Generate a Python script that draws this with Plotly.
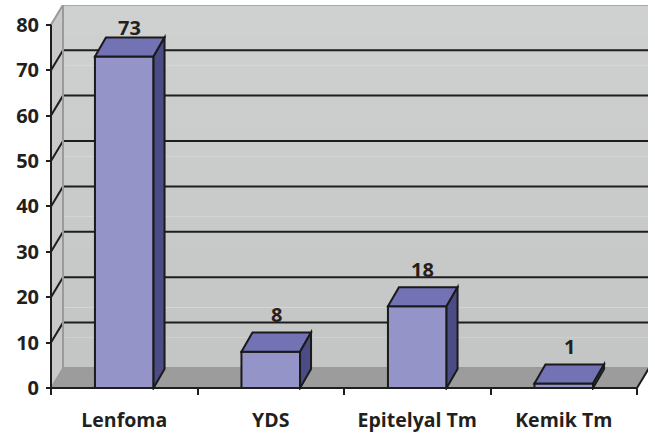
import plotly.graph_objects as go

# Tumour groups and counts
categories = ["Lenfoma", "YDS", "Epitelyal Tm", "Kemik Tm"]
values = [73, 8, 18, 1]
y_ticks = [0, 10, 20, 30, 40, 50, 60, 70, 80]

# 3D-look geometry (in axis units)
n = len(categories)
centers = [i + 0.5 for i in range(n)]
bar_w = 0.4
wall_dx, wall_dy = 0.082, 4.4     # depth of walls/floor
bar_dx, bar_dy = 0.075, 4.2       # depth of bars
y_top = 80

FRONT = "#9494C8"
TOP = "#7272B4"
SIDE = "#4C4C84"
SIDEWALL = "#C9C9C9"
FLOOR = "#9C9C9C"
EDGE = "#9A9A9A"
INK = "#231F20"
FONT = "Open Sans"

def poly(pts):
    return "M " + " L ".join(f"{x},{y}" for x, y in pts) + " Z"

def line(pts):
    return "M " + " L ".join(f"{x},{y}" for x, y in pts)

shapes = []
# back wall, with a soft vertical shading
bands = 12
for k in range(bands):
    y0 = wall_dy + (y_top) * k / bands
    y1 = wall_dy + (y_top) * (k + 1) / bands
    t = k / (bands - 1)
    c = int(196 + (207 - 196) * t)
    shapes.append(dict(type="rect", xref="x", yref="y", layer="below",
                       x0=wall_dx, x1=n + wall_dx, y0=y0, y1=y1,
                       fillcolor=f"rgb({c},{c+1},{c+1})", line=dict(width=0)))
# side wall
shapes.append(dict(type="path", xref="x", yref="y", layer="below",
                   path=poly([(0, 0), (0, y_top), (wall_dx, y_top + wall_dy), (wall_dx, wall_dy)]),
                   fillcolor=SIDEWALL, line=dict(width=0)))
# floor
shapes.append(dict(type="path", xref="x", yref="y", layer="below",
                   path=poly([(0, 0), (n, 0), (n + wall_dx, wall_dy), (wall_dx, wall_dy)]),
                   fillcolor=FLOOR, line=dict(width=0)))
# gridlines across side wall and back wall
for v in y_ticks[1:-1]:
    shapes.append(dict(type="path", xref="x", yref="y", layer="below",
                       path=line([(0, v), (wall_dx, v + wall_dy), (n + wall_dx, v + wall_dy)]),
                       line=dict(color="#1E1E1E", width=2)))
# wall borders
shapes.append(dict(type="path", xref="x", yref="y", layer="below",
                   path=line([(0, y_top), (wall_dx, y_top + wall_dy), (n + wall_dx, y_top + wall_dy),
                              (n + wall_dx, wall_dy)]),
                   line=dict(color=EDGE, width=2)))
shapes.append(dict(type="path", xref="x", yref="y", layer="below",
                   path=line([(wall_dx, y_top + wall_dy), (wall_dx, wall_dy), (n + wall_dx, wall_dy)]),
                   line=dict(color=EDGE, width=2)))
shapes.append(dict(type="path", xref="x", yref="y", layer="below",
                   path=line([(0, 0), (wall_dx, wall_dy)]),
                   line=dict(color=EDGE, width=1.5)))
# floor front edge and right edge
shapes.append(dict(type="path", xref="x", yref="y", layer="above",
                   path=line([(0, 0), (n, 0), (n + wall_dx, wall_dy)]),
                   line=dict(color="#1E1E1E", width=2)))
# front vertical axis line
shapes.append(dict(type="line", xref="x", yref="y", layer="above",
                   x0=0, x1=0, y0=0, y1=y_top, line=dict(color="#1E1E1E", width=2)))

# bar top and side faces
for c, v in zip(centers, values):
    xl, xr = c - bar_w / 2, c + bar_w / 2
    shapes.append(dict(type="path", xref="x", yref="y", layer="above",
                       path=poly([(xl, v), (xr, v), (xr + bar_dx, v + bar_dy), (xl + bar_dx, v + bar_dy)]),
                       fillcolor=TOP, line=dict(color="#1A1A1A", width=2)))
    shapes.append(dict(type="path", xref="x", yref="y", layer="above",
                       path=poly([(xr, 0), (xr, v), (xr + bar_dx, v + bar_dy), (xr + bar_dx, bar_dy)]),
                       fillcolor=SIDE, line=dict(color="#1A1A1A", width=2)))

# value labels above each bar
annotations = []
for c, v in zip(centers, values):
    annotations.append(dict(x=c + bar_dx / 2, y=min(v + bar_dy + 4, 79.3), xref="x", yref="y",
                            text=str(v), showarrow=False,
                            font=dict(family=FONT, size=20, color=INK, weight="bold")))

fig = go.Figure(go.Bar(
    x=centers, y=values, width=bar_w,
    marker=dict(color=FRONT, line=dict(color="#1A1A1A", width=2)),
    hoverinfo="skip",
))

W, H = 655, 434
ml, mr, mt, mb = 48, 7, 5, 44
pw, ph = W - ml - mr, H - mt - mb
px_x = 146.5
px_y = 4.54
x0 = -3 / px_x
y0 = -2 / px_y

fig.update_layout(
    width=W, height=H,
    margin=dict(l=ml, r=mr, t=mt, b=mb),
    paper_bgcolor="white", plot_bgcolor="white",
    showlegend=False,
    shapes=shapes, annotations=annotations,
    xaxis=dict(range=[x0, x0 + pw / px_x], showgrid=False, zeroline=False, showline=False,
               anchor="free", position=2 / ph, automargin=False,
               tickvals=centers, ticktext=categories, ticks="",
               ticklabelstandoff=18,
               tickfont=dict(family=FONT, size=19.5, color=INK, weight="bold"),
               minor=dict(tickvals=list(range(n + 1)), ticks="outside", ticklen=6,
                          tickwidth=2, tickcolor="#1E1E1E", showgrid=False)),
    yaxis=dict(range=[y0, y0 + ph / px_y], showgrid=False, zeroline=False, showline=False,
               anchor="free", position=3 / pw, automargin=False,
               tickvals=y_ticks, ticks="outside", ticklen=5, tickwidth=2, tickcolor="#1E1E1E",
               ticklabelstandoff=3,
               tickfont=dict(family=FONT, size=20, color=INK, weight="bold")),
)

fig.write_html("out.html")
